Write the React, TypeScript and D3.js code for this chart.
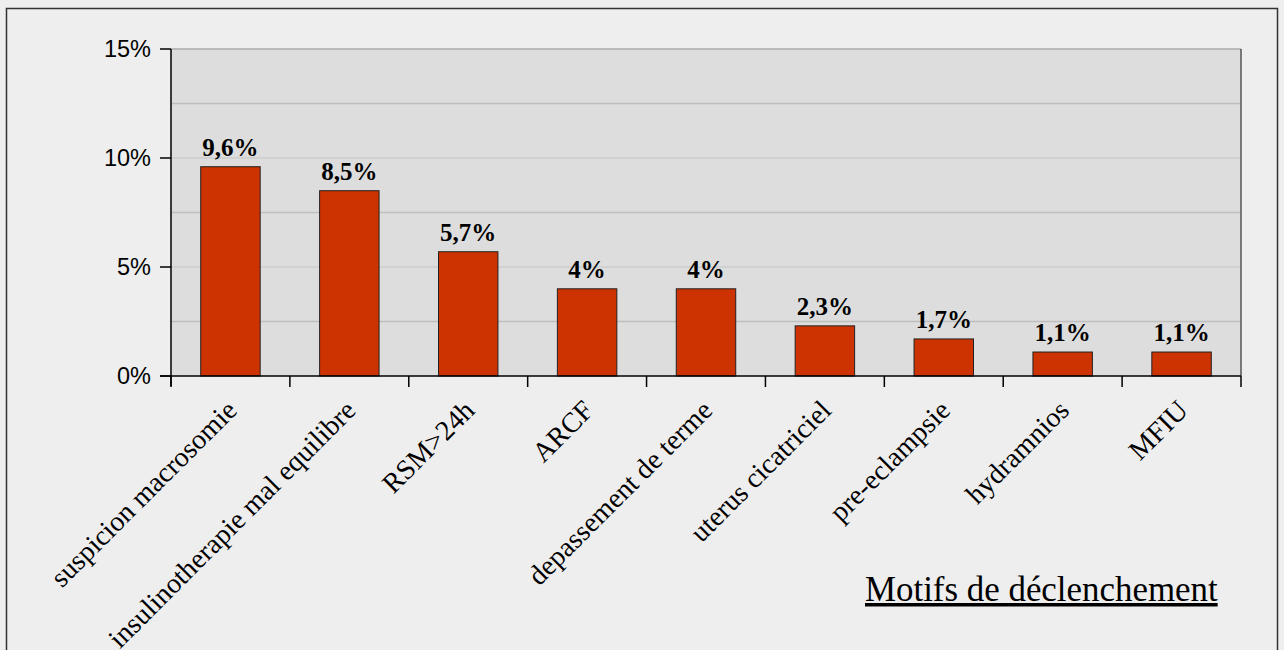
import React from "react";
import * as d3 from "d3";

const categories = [
  "suspicion macrosomie",
  "insulinotherapie mal equilibre",
  "RSM>24h",
  "ARCF",
  "depassement de terme",
  "uterus cicatriciel",
  "pre-eclampsie",
  "hydramnios",
  "MFIU",
];
const values = [9.6, 8.5, 5.7, 4, 4, 2.3, 1.7, 1.1, 1.1];
const yTicks = [0, 5, 10, 15];
const gridValues = [2.5, 5, 7.5, 10, 12.5, 15];
const title = "Motifs de déclenchement";

const W = 1284;
const H = 650;
const left = 171;
const right = 1241;
const top = 49;
const bottom = 376;

export default function App() {
  const x = d3.scaleBand<string>().domain(categories).range([left, right]).padding(0);
  const y = d3.scaleLinear().domain([0, 15]).range([bottom, top]);
  const bw = x.bandwidth() * 0.5;
  const fmt = (v: number) => String(v).replace(".", ",") + "%";
  const boundaries = d3.range(categories.length + 1).map((i) => left + i * x.step());

  return (
    <svg
      width={W}
      height={H}
      style={{ position: "absolute", left: 0, top: 0, display: "block" }}
    >
      <rect x={0} y={0} width={W} height={H} fill="#eeeeee" />
      <rect x={6.5} y={8.5} width={1271} height={700} fill="none" stroke="#333" strokeWidth={1.5} />
      <rect x={left} y={top} width={right - left} height={bottom - top} fill="#dddddd" />
      {gridValues.map((g) => (
        <line
          key={g}
          x1={left}
          x2={right}
          y1={y(g)}
          y2={y(g)}
          stroke={g === 15 ? "#aaaaaa" : g % 5 === 0 ? "#cdcdcd" : "#bebebe"}
          strokeWidth={1.5}
        />
      ))}
      <line x1={right} x2={right} y1={top} y2={bottom} stroke="#555" strokeWidth={1.5} />
      {values.map((v, i) => {
        const cx = (x(categories[i]) as number) + x.bandwidth() / 2;
        return (
          <g key={i}>
            <rect
              x={cx - bw / 2}
              y={y(v)}
              width={bw}
              height={bottom - y(v)}
              fill="#cc3300"
              stroke="#222"
              strokeWidth={1}
            />
            <text
              x={cx}
              y={y(v) - 11}
              textAnchor="middle"
              fontFamily="'Liberation Serif', 'Times New Roman', serif"
              fontWeight="bold"
              fontSize={25}
              fill="#000"
            >
              {fmt(v)}
            </text>
          </g>
        );
      })}
      <line x1={left} x2={left} y1={top} y2={bottom + 10} stroke="#000" strokeWidth={1.5} />
      <line x1={left - 11} x2={right} y1={bottom} y2={bottom} stroke="#000" strokeWidth={1.5} />
      {yTicks.map((t) => (
        <g key={t}>
          <line x1={left - 11} x2={left} y1={y(t)} y2={y(t)} stroke="#000" strokeWidth={1.5} />
          <text
            x={151}
            y={y(t)}
            dy="0.35em"
            textAnchor="end"
            fontFamily="'Liberation Sans', Arial, sans-serif"
            fontSize={23.5}
            fill="#000"
          >
            {t}%
          </text>
        </g>
      ))}
      {boundaries.map((b, i) => (
        <line key={i} x1={b} x2={b} y1={bottom} y2={bottom + 11} stroke="#000" strokeWidth={1.5} />
      ))}
      {categories.map((c) => {
        const cx = (x(c) as number) + x.bandwidth() / 2;
        const tx = cx + 8;
        const ty = 412;
        return (
          <text
            key={c}
            x={tx}
            y={ty}
            transform={`rotate(-45 ${tx} ${ty})`}
            textAnchor="end"
            fontFamily="'Liberation Serif', 'Times New Roman', serif"
            fontSize={28}
            fill="#000"
          >
            {c}
          </text>
        );
      })}
      <text
        x={865}
        y={601}
        fontFamily="'Liberation Serif', 'Times New Roman', serif"
        fontSize={34.9}
        fill="#000"
        style={{ textDecoration: "underline" }}
      >
        {title}
      </text>
    </svg>
  );
}
